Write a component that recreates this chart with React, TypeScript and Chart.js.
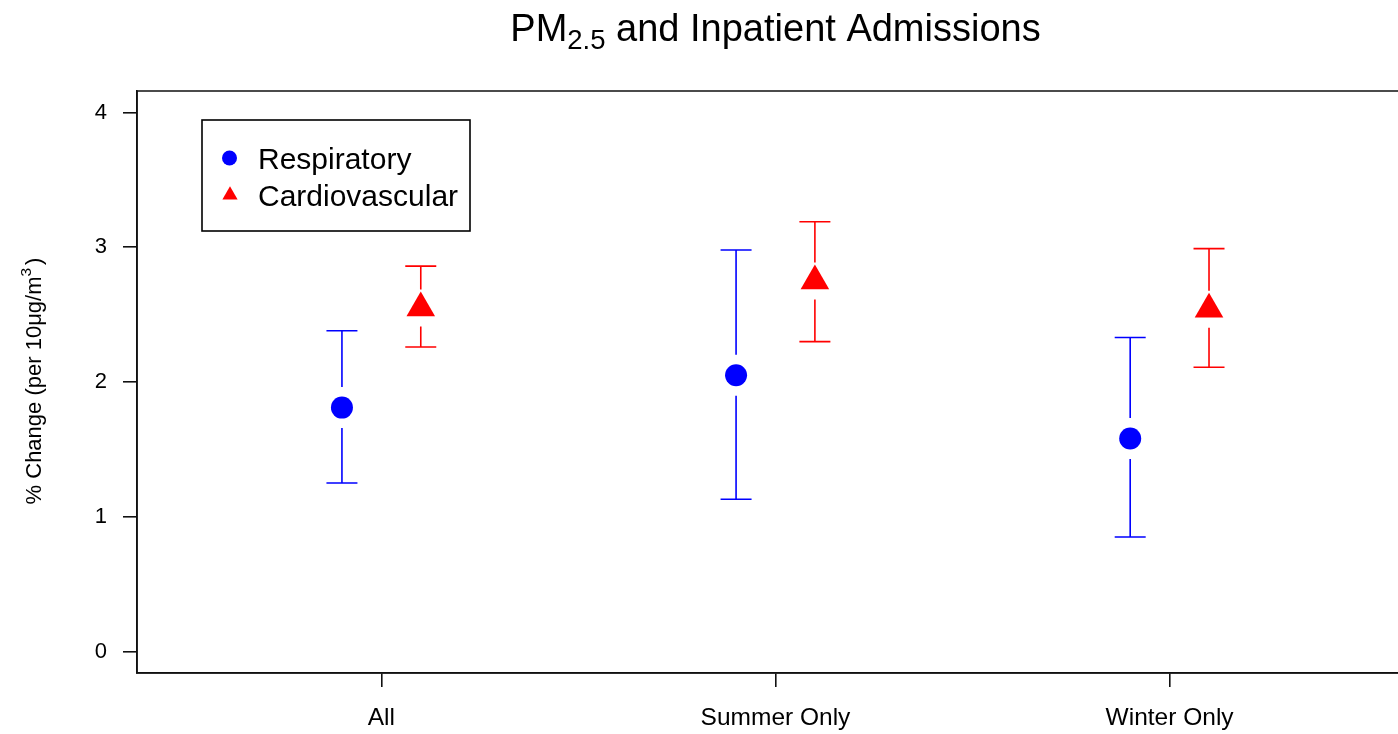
import React, { useEffect, useRef } from "react";
import { Chart, registerables } from "chart.js";

Chart.register(...registerables);

// ---------- data ----------
const CATEGORIES = ["All", "Summer Only", "Winter Only"];
const CATEGORY_X = [1, 2, 3];
const SERIES_NAMES = ["Respiratory", "Cardiovascular"];
const RESP_EST = [1.81, 2.05, 1.58];
const RESP_LO = [1.25, 1.13, 0.85];
const RESP_HI = [2.38, 2.98, 2.33];
const CARD_EST = [2.55, 2.75, 2.54];
const CARD_LO = [2.26, 2.3, 2.11];
const CARD_HI = [2.86, 3.19, 2.99];
const Y_TICKS = [0, 1, 2, 3, 4];
const DODGE = 0.1;

const FONT = "'Liberation Sans', Arial, Helvetica, sans-serif";
const BLUE = "#0000FF";
const RED = "#FF0000";
const INK = "#111111";

const errorBarPlugin = {
  id: "errorBars",
  beforeDatasetsDraw(chart: any) {
    const ctx = chart.ctx;
    const yScale = chart.scales.y;
    chart.data.datasets.forEach((ds: any, i: number) => {
      const meta = chart.getDatasetMeta(i);
      ctx.save();
      ctx.strokeStyle = ds.backgroundColor;
      ctx.lineWidth = 1.6;
      meta.data.forEach((el: any, j: number) => {
        const x = el.x;
        const yc = el.y;
        const yHi = yScale.getPixelForValue(ds.errHi[j]);
        const yLo = yScale.getPixelForValue(ds.errLo[j]);
        const g = ds.errGap;
        const cap = 15.5;
        ctx.beginPath();
        ctx.moveTo(x, yHi);
        ctx.lineTo(x, yc - g);
        ctx.moveTo(x, yc + g);
        ctx.lineTo(x, yLo);
        ctx.moveTo(x - cap, yHi);
        ctx.lineTo(x + cap, yHi);
        ctx.moveTo(x - cap, yLo);
        ctx.lineTo(x + cap, yLo);
        ctx.stroke();
      });
      ctx.restore();
    });
  },
};

const decorPlugin = {
  id: "decor",
  afterDraw(chart: any) {
    const ctx = chart.ctx;
    const a = chart.chartArea;
    ctx.save();
    // plot box (right side lies beyond the picture)
    ctx.strokeStyle = INK;
    ctx.lineWidth = 1.6;
    ctx.beginPath();
    ctx.moveTo(chart.width + 5, a.top);
    ctx.lineTo(a.left, a.top);
    ctx.lineTo(a.left, a.bottom);
    ctx.lineTo(chart.width + 5, a.bottom);
    ctx.stroke();

    // title with subscript, centred on the middle of the x range
    const cx = chart.scales.x.getPixelForValue(2);
    const main = `${38}px ${FONT}`;
    const sub = `${27.5}px ${FONT}`;
    ctx.fillStyle = "#000";
    ctx.textBaseline = "alphabetic";
    ctx.textAlign = "left";
    ctx.font = main;
    const w1 = ctx.measureText("PM").width;
    const w3 = ctx.measureText(" and Inpatient Admissions").width;
    ctx.font = sub;
    const w2 = ctx.measureText("2.5").width;
    let x = cx - (w1 + w2 + w3) / 2;
    const base = 41;
    ctx.font = main;
    ctx.fillText("PM", x, base);
    x += w1;
    ctx.font = sub;
    ctx.fillText("2.5", x, base + 8);
    x += w2;
    ctx.font = main;
    ctx.fillText(" and Inpatient Admissions", x, base);

    // y-axis title with superscript
    ctx.save();
    ctx.translate(41, 381);
    ctx.rotate(-Math.PI / 2);
    const yf = `${22}px ${FONT}`;
    const yfs = `${15.5}px ${FONT}`;
    ctx.font = yf;
    const p1 = "% Change (per 10\u03bcg/m";
    const p3 = ")";
    const t1 = ctx.measureText(p1).width;
    const t3 = ctx.measureText(p3).width;
    ctx.font = yfs;
    const t2 = ctx.measureText("3").width;
    let tx = -(t1 + t2 + t3 + 3) / 2;
    ctx.font = yf;
    ctx.fillText(p1, tx, 0);
    tx += t1;
    ctx.font = yfs;
    ctx.fillText("3", tx, -10);
    tx += t2 + 3;
    ctx.font = yf;
    ctx.fillText(p3, tx, 0);
    ctx.restore();

    // legend
    ctx.lineWidth = 1.6;
    ctx.strokeStyle = "#000";
    ctx.strokeRect(202, 120, 268, 111);
    const rows = [158, 195];
    ctx.font = `${30}px ${FONT}`;
    ctx.textBaseline = "alphabetic";
    chart.data.datasets.forEach((ds: any, i: number) => {
      const yy = rows[i];
      ctx.fillStyle = ds.backgroundColor;
      ctx.beginPath();
      if (ds.pointStyle === "circle") {
        ctx.arc(229.5, yy, 7.5, 0, Math.PI * 2);
      } else {
        const r = 8.8;
        ctx.moveTo(230, yy - r);
        ctx.lineTo(230 + (r * Math.sqrt(3)) / 2, yy + r / 2);
        ctx.lineTo(230 - (r * Math.sqrt(3)) / 2, yy + r / 2);
        ctx.closePath();
      }
      ctx.fill();
      ctx.fillStyle = "#000";
      ctx.fillText(ds.label, 258, yy + 10.5);
    });
    ctx.restore();
  },
};

export default function App() {
  const ref = useRef<HTMLCanvasElement | null>(null);
  useEffect(() => {
    if (!ref.current) return;
    const chart = new Chart(ref.current, {
      type: "scatter",
      data: {
        datasets: [
          {
            label: SERIES_NAMES[0],
            data: CATEGORY_X.map((c, i) => ({ x: c - DODGE, y: RESP_EST[i] })),
            backgroundColor: BLUE,
            borderColor: BLUE,
            borderWidth: 0,
            pointStyle: "circle",
            pointRadius: 11,
            pointHoverRadius: 11,
            errLo: RESP_LO,
            errHi: RESP_HI,
            errGap: 20.5,
          } as any,
          {
            label: SERIES_NAMES[1],
            data: CATEGORY_X.map((c, i) => ({ x: c + DODGE, y: CARD_EST[i] })),
            backgroundColor: RED,
            borderColor: RED,
            borderWidth: 0,
            pointStyle: "triangle",
            pointRadius: 16.5,
            pointHoverRadius: 16.5,
            errLo: CARD_LO,
            errHi: CARD_HI,
            errGap: 18.5,
          } as any,
        ],
      },
      options: {
        responsive: false,
        animation: false,
        events: [],
        layout: { autoPadding: false, padding: { top: 91, left: 0, right: 0, bottom: 0 } },
        plugins: {
          legend: { display: false },
          tooltip: { enabled: false },
          title: { display: false },
        },
        scales: {
          x: {
            type: "linear",
            min: 0.38,
            max: 3.5795,
            afterBuildTicks: (s: any) => {
              s.ticks = CATEGORY_X.map((v) => ({ value: v }));
            },
            afterFit: (s: any) => {
              s.height = 61;
            },
            grid: {
              drawOnChartArea: false,
              drawTicks: true,
              tickLength: 14,
              color: INK,
              lineWidth: 1.6,
            },
            border: { display: true, color: INK, width: 1.6 },
            ticks: {
              autoSkip: false,
              maxRotation: 0,
              padding: 17,
              color: "#000",
              font: { family: FONT, size: 24.5 },
              callback: (v: any) => CATEGORIES[CATEGORY_X.indexOf(Number(v))] ?? "",
            },
          },
          y: {
            type: "linear",
            min: -0.16,
            max: 4.16,
            afterBuildTicks: (s: any) => {
              s.ticks = Y_TICKS.map((v) => ({ value: v }));
            },
            afterFit: (s: any) => {
              s.width = 137;
            },
            grid: {
              drawOnChartArea: false,
              drawTicks: true,
              tickLength: 14,
              color: INK,
              lineWidth: 1.6,
            },
            border: { display: true, color: INK, width: 1.6 },
            ticks: {
              padding: 16,
              color: "#000",
              font: { family: FONT, size: 22 },
              callback: (v: any) => String(v),
            },
          },
        },
      },
      plugins: [errorBarPlugin, decorPlugin],
    });
    return () => chart.destroy();
  }, []);

  return (
    <div
      style={{
        position: "fixed",
        left: 0,
        top: 0,
        width: 1398,
        height: 734,
        overflow: "hidden",
        background: "#fff",
      }}
    >
      <canvas
        ref={ref}
        width={1398}
        height={734}
        style={{ display: "block", width: 1398, height: 734 }}
      />
    </div>
  );
}
